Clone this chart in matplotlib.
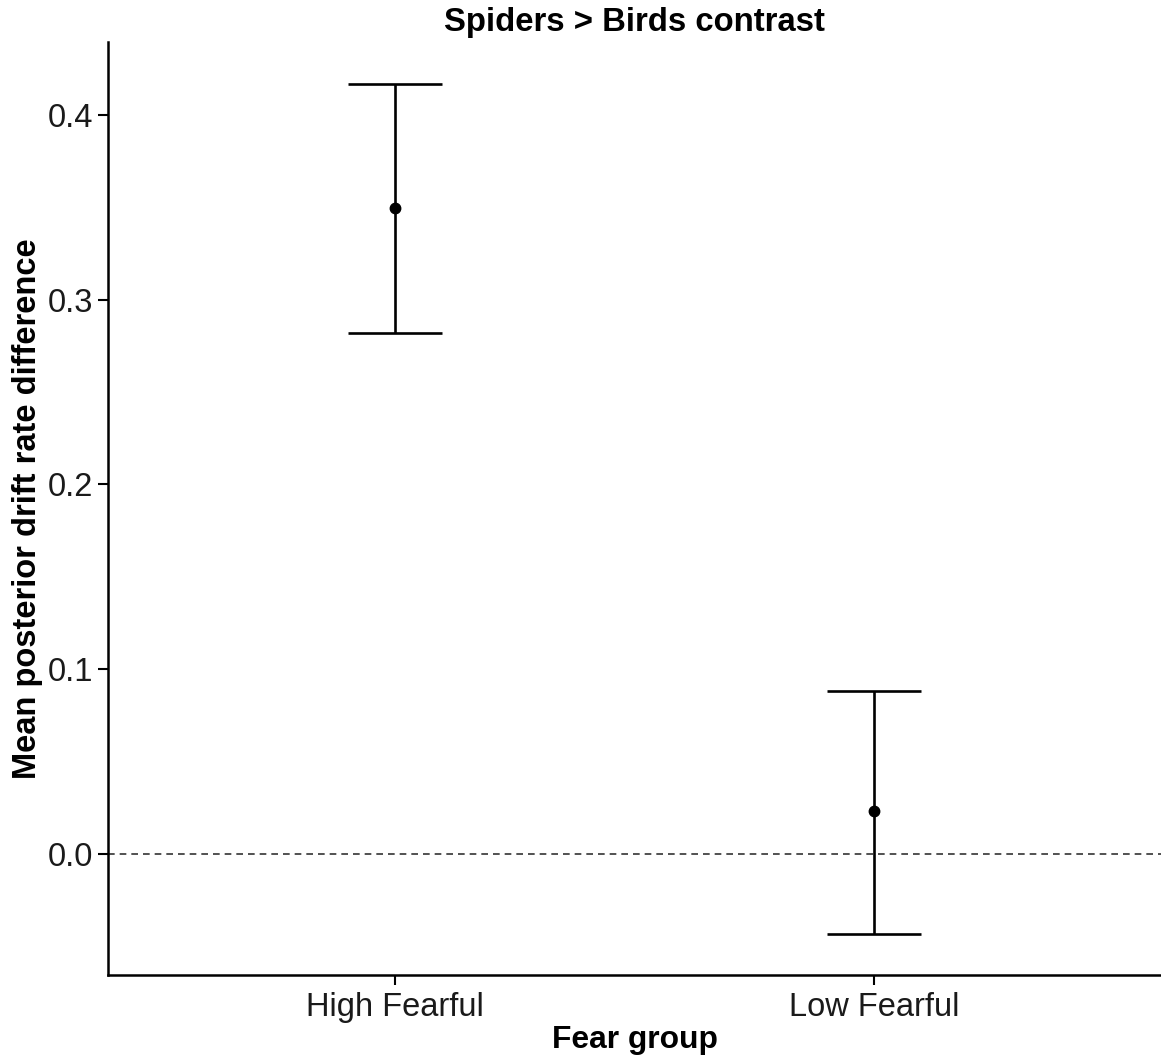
import matplotlib
matplotlib.use("Agg")
import matplotlib.pyplot as plt

groups = ["High Fearful", "Low Fearful"]
means = [0.3497, 0.0232]
lower = [0.2822, -0.0432]
upper = [0.4168, 0.0881]

plt.rcParams['font.family'] = ['Liberation Sans', 'DejaVu Sans']

fig = plt.figure(figsize=(11.61, 10.63), dpi=100)
ax = fig.add_axes([108/1161, 88/1063, 1 - 108/1161, (975-42)/1063])

xs = list(range(1, len(groups) + 1))
yerr = [[m - l for m, l in zip(means, lower)], [u - m for m, u in zip(means, upper)]]
ax.axhline(0, color='#333333', lw=1.2, ls=(0, (4, 3)), zorder=1)
ax.errorbar(xs, means, yerr=yerr, fmt='o', color='black', ms=7.5, lw=1.9,
            capsize=34, capthick=1.9, zorder=3)

ax.set_xlim(0.4, 2.6)
ax.set_ylim(-0.0655, 0.4395)
ax.set_xticks(xs)
ax.set_xticklabels(groups)
ax.set_yticks([0.0, 0.1, 0.2, 0.3, 0.4])
ax.set_yticklabels(["0.0", "0.1", "0.2", "0.3", "0.4"])
ax.tick_params(labelsize=23.5, length=7, width=1.5, color='black', labelcolor='#1a1a1a')
ax.tick_params(axis='y', pad=3.5)
ax.tick_params(axis='x', pad=5)
for s in ['top', 'right']:
    ax.spines[s].set_visible(False)
for s in ['left', 'bottom']:
    ax.spines[s].set_linewidth(1.8)

ax.set_xlabel("Fear group", fontsize=22.9, fontweight='bold', labelpad=2)
ax.set_ylabel("Mean posterior drift rate difference", fontsize=23.5, fontweight='bold', labelpad=3.5)
fig.text(0.5 + 108/1161/2, 1 - 22/1063, "Spiders > Birds contrast", fontsize=23.7, fontweight='bold',
         ha='center', va='center')

fig.savefig("out.png", dpi=100)
